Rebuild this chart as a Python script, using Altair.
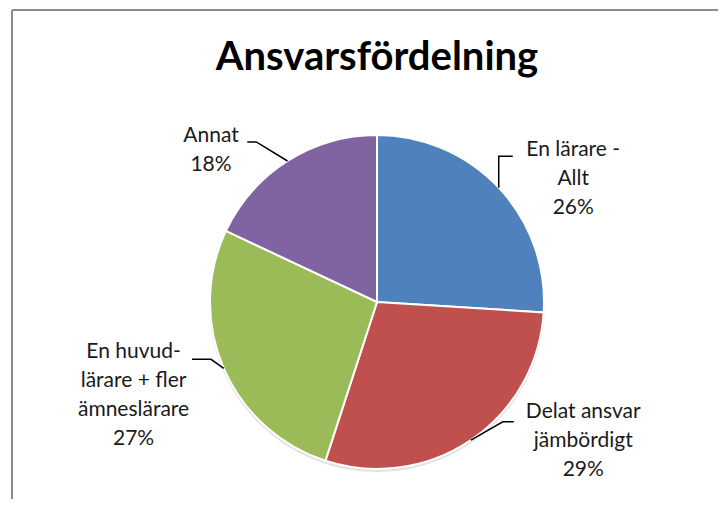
import math
import altair as alt
import pandas as pd

# ---- data ----
categories = ["En lärare - Allt", "Delat ansvar jämbördigt",
              "En huvud-lärare + fler ämneslärare", "Annat"]
label_lines = [["En lärare -", "Allt"],
               ["Delat ansvar", "jämbördigt"],
               ["En huvud-", "lärare  + fler", "ämneslärare"],
               ["Annat"]]
shares = [26, 29, 27, 18]
colors = ["#4F81BD", "#C0504D", "#9BBB59", "#8064A2"]
title_text = "Ansvarsfördelning"

# ---- layout / style (pixels and radius units) ----
W, H = 710, 391
PAD_TOP = 100
CX, CY = 369, 194          # pie centre inside the view
R = 167                    # pie radius
LINE_H = 29                # label line height
# leader line elbow / end and label offsets, relative to the slice-mid point (radius units)
leader_style = {
    categories[0]: {"elbow": (0.0, 0.188), "end": (0.084, 0.188), "label": (0.446, 0.05)},
    categories[1]: {"elbow": (0.191, 0.110), "end": (0.257, 0.110), "label": (0.673, -0.004)},
    categories[2]: {"elbow": (-0.076, 0.054), "end": (-0.190, 0.054), "label": (-0.540, -0.163)},
    categories[3]: {"elbow": (-0.187, 0.114), "end": (-0.241, 0.114), "label": (-0.458, 0.060)},
}

total = sum(shares)
df = pd.DataFrame({
    "idx": list(range(len(categories))),
    "category": categories,
    "share": shares,
})
df["label"] = [("\n".join(lines + [f"{s}%"])) for lines, s in zip(label_lines, shares)]
df["nlines"] = [len(lines) + 1 for lines in label_lines]

# slice mid-angles (clockwise from top) derived from the data
cum = df["share"].cumsum() - df["share"] / 2
df["mid"] = cum / total * 2 * math.pi
df["sx"] = df["mid"].apply(math.sin)
df["sy"] = df["mid"].apply(math.cos)
df["lx"] = [sx + leader_style[c]["label"][0] for sx, c in zip(df["sx"], df["category"])]
# the first line is drawn at the anchor: lift it so the whole block is centred
df["ly"] = [sy + leader_style[c]["label"][1] + (n - 1) / 2 * LINE_H / R
            for sy, c, n in zip(df["sy"], df["category"], df["nlines"])]

rows = []
for _, r in df.iterrows():
    st = leader_style[r["category"]]
    rows.append({"category": r["category"], "step": 0, "x": r["sx"], "y": r["sy"]})
    rows.append({"category": r["category"], "step": 1,
                 "x": r["sx"] + st["elbow"][0], "y": r["sy"] + st["elbow"][1]})
    rows.append({"category": r["category"], "step": 2,
                 "x": r["sx"] + st["end"][0], "y": r["sy"] + st["end"][1]})
leaders = pd.DataFrame(rows)

# cartesian scales where one unit = one pie radius, centred on the pie
xs = alt.Scale(domain=[-CX / R, (W - CX) / R], nice=False, zero=False)
ys = alt.Scale(domain=[-(H - CY) / R, CY / R], nice=False, zero=False)

one = pd.DataFrame({"k": [0]})
title_df = pd.DataFrame({"t": [title_text]})

border_top = alt.Chart(one).mark_rule(color="#8c8c8c", strokeWidth=2).encode(
    x=alt.value(4), x2=alt.value(W), y=alt.value(-PAD_TOP + 2))
border_left = alt.Chart(one).mark_rule(color="#8c8c8c", strokeWidth=2).encode(
    x=alt.value(4), y=alt.value(-PAD_TOP + 2), y2=alt.value(H))

title = alt.Chart(title_df).mark_text(
    font="Lato", fontSize=40, fontWeight="bold", color="black",
    align="center", baseline="alphabetic"
).encode(x=alt.value(CX), y=alt.value(-38), text="t:N")

shadow = alt.Chart(one).mark_arc(
    radius=R + 1, theta=0, theta2=2 * math.pi, color="#9a9a9a", opacity=0.3
).encode(x=alt.value(CX), y=alt.value(CY + 2))

pie = alt.Chart(df).mark_arc(radius=R, stroke="white", strokeWidth=2).encode(
    theta=alt.Theta("share:Q", stack=True),
    color=alt.Color("category:N", scale=alt.Scale(domain=categories, range=colors), legend=None),
    order=alt.Order("idx:Q"),
    x=alt.value(CX), y=alt.value(CY),
)

lines = alt.Chart(leaders).mark_line(color="black", strokeWidth=1.5).encode(
    x=alt.X("x:Q", scale=xs, axis=None),
    y=alt.Y("y:Q", scale=ys, axis=None),
    detail="category:N",
    order="step:Q",
)

labels = alt.Chart(df).mark_text(
    font="Lato", fontSize=21, lineHeight=LINE_H, lineBreak="\n",
    align="center", baseline="middle", color="#1a1a1a"
).encode(
    x=alt.X("lx:Q", scale=xs, axis=None),
    y=alt.Y("ly:Q", scale=ys, axis=None),
    text="label:N",
)

chart = alt.layer(border_top, border_left, title, shadow, pie, lines, labels).properties(
    width=W, height=H,
    padding={"left": 0, "top": PAD_TOP, "right": 0, "bottom": 0},
    autosize=alt.AutoSizeParams(type="none"),
).configure_view(stroke=None).resolve_scale(x="shared", y="shared")

chart.save("out.html", embed_options={"renderer": "svg", "actions": False})
